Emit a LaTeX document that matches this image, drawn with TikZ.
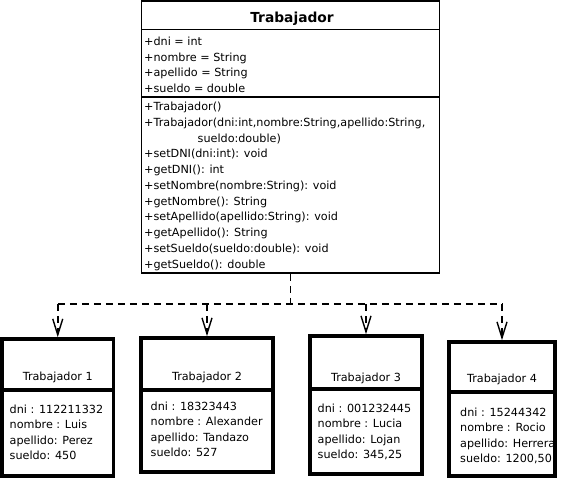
\documentclass[tikz,border=0pt]{standalone}
\usepackage{fontspec}
\setmainfont{DejaVu Sans}
\usetikzlibrary{arrows.meta,positioning}

\tikzset{
  classbox/.style={draw, line width=1.8pt, inner sep=0pt, minimum width=298pt, minimum height=272pt},
  objbox/.style={draw, line width=3.6pt, inner sep=0pt},
  member/.style={anchor=base west, inner sep=0pt, font=\fontsize{11.2}{13}\selectfont},
  objtitle/.style={anchor=base, inner sep=0pt, font=\fontsize{11.2}{13}\selectfont},
  bus/.style={line width=1.6pt, dash pattern=on 7pt off 5pt},
  dep/.style={bus, -{Straight Barb[length=16pt,width=10pt,line width=1.4pt]}},
}

\begin{document}
\begin{tikzpicture}[x=1pt,y=-1pt]
  \useasboundingbox (0,0) rectangle (565,479);

  % clase
  \node[classbox] (trab) at (290.5,137) {};
  \draw[line width=1.8pt] (141.5,29.5) -- (439.5,29.5);
  \draw[line width=1.8pt] (141.5,97) -- (439.5,97);
  \node[anchor=base, inner sep=0pt, font=\fontsize{13.8}{16}\selectfont\bfseries] (trabname) at (292,22) {Trabajador};

  \foreach \y/\txt [count=\i] in {45/{+dni = int}, 61/{+nombre = String},
      76.5/{+apellido = String}, 92/{+sueldo = double}}
    \node[member] (attr\i) at (144,\y) {\txt};

  \foreach \y/\txt [count=\i] in {110/{+Trabajador()},
      126/{+Trabajador(dni:int,nombre:String,apellido:String,},
      157.5/{+setDNI(dni:int): void}, 173.5/{+getDNI(): int},
      189/{+setNombre(nombre:String): void}, 205/{+getNombre(): String},
      220.5/{+setApellido(apellido:String): void}, 236/{+getApellido(): String},
      252/{+setSueldo(sueldo:double): void}, 268/{+getSueldo(): double}}
    \node[member] (meth\i) at (144,\y) {\txt};
  \node[member] (methcont) at (197.5,142) {sueldo:double)};

  % objetos
  \node[objbox, minimum width=111.5pt, minimum height=137pt] (t1) at (57.75,407.5) {};
  \node[objbox, minimum width=132pt, minimum height=134pt] (t2) at (207,405) {};
  \node[objbox, minimum width=112pt, minimum height=138pt] (t3) at (366,405) {};
  \node[objbox, minimum width=106pt, minimum height=134pt] (t4) at (502,409) {};
  \draw[line width=3.6pt] (2,390) -- (113.5,390);
  \draw[line width=3.6pt] (141,390) -- (273,390);
  \draw[line width=3.6pt] (310,389) -- (422,389);
  \draw[line width=3.6pt] (449,392) -- (555,392);

  \node[objtitle] (t1name) at (57.75,380) {Trabajador 1};
  \node[objtitle] (t2name) at (207,380) {Trabajador 2};
  \node[objtitle] (t3name) at (366,381) {Trabajador 3};
  \node[objtitle] (t4name) at (502,382) {Trabajador 4};

  \foreach \txt [count=\i from 0] in {dni : 112211332, nombre : Luis, apellido: Perez, sueldo: 450}
    \node[member] (t1v\i) at (9.5,413+15.6*\i) {\txt};
  \foreach \txt [count=\i from 0] in {dni : 18323443, nombre : Alexander, apellido: Tandazo, sueldo: 527}
    \node[member] (t2v\i) at (150.5,410+15.6*\i) {\txt};
  \foreach \txt [count=\i from 0] in {dni : 001232445, nombre : Lucia, apellido: Lojan, {sueldo: 345,25}}
    \node[member] (t3v\i) at (317.5,412+15.6*\i) {\txt};
  \foreach \txt [count=\i from 0] in {dni : 15244342, nombre : Rocio, apellido: Herrera, {sueldo: 1200,50}}
    \node[member] (t4v\i) at (460,416+15.6*\i) {\txt};

  % dependencias
  \coordinate[below=30pt of trab.south] (fork);
  \draw[bus] (trab.south) -- (fork);
  \draw[bus] (t1.north |- fork) -- (t4.north |- fork);
  \foreach \n in {t1,t2,t3,t4}
    \draw[dep] (\n.north |- fork) -- (\n.north);
\end{tikzpicture}
\end{document}
